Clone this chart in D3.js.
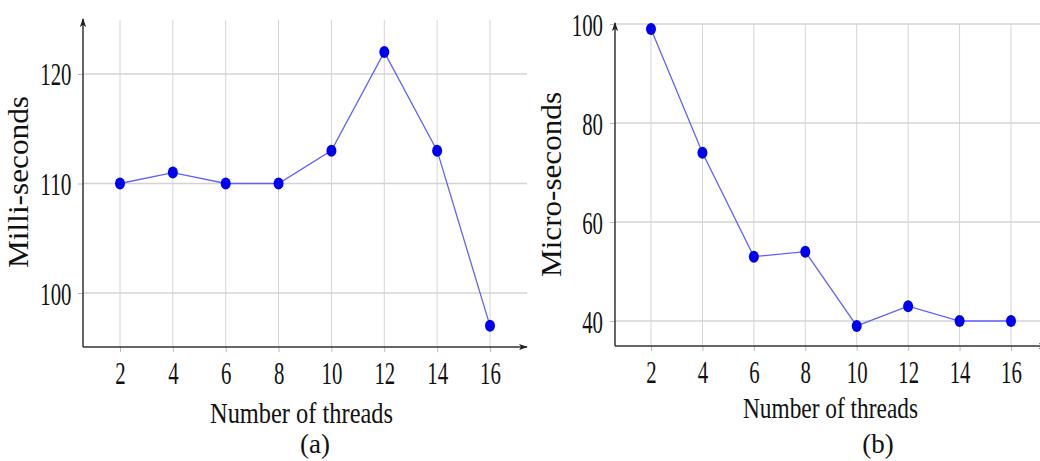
<!DOCTYPE html>
<html>
<head>
<meta charset="utf-8">
<script src="https://cdn.jsdelivr.net/npm/d3@7"></script>
<style>
  body { margin: 0; background: #fff; }
  svg { display: block; }
  svg text { font-family: "Liberation Serif", "DejaVu Serif", serif !important; fill: #111; }
</style>
</head>
<body>
<div id="chart"></div>
<script>
// data
const threads = [2, 4, 6, 8, 10, 12, 14, 16];
const milliSeconds = [110, 111, 110, 110, 113, 122, 113, 97];
const microSeconds = [99, 74, 53, 54, 39, 43, 40, 40];
const yTicksA = [100, 110, 120];
const yTicksB = [40, 60, 80, 100];

const W = 1040, H = 461;
const svg = d3.select('#chart').append('svg')
  .attr('width', W).attr('height', H);

svg.append('defs').append('marker')
  .attr('id', 'arrow')
  .attr('viewBox', '0 0 10 10')
  .attr('refX', 9).attr('refY', 5)
  .attr('markerWidth', 6).attr('markerHeight', 6)
  .attr('orient', 'auto')
  .append('path').attr('d', 'M0,1.5 L10,5 L0,8.5 L2.5,5 Z').attr('fill', '#222');

function panel(p) {
  const x = d3.scaleLinear().domain([0.6, 17.4]).range(p.xr);
  const y = d3.scaleLinear().domain(p.yd).range(p.yr);
  const g = svg.append('g');

  // grid
  g.selectAll('line.vg').data(threads).enter().append('line')
    .attr('x1', d => x(d)).attr('x2', d => x(d))
    .attr('y1', p.yr[1]).attr('y2', p.yr[0])
    .attr('stroke', '#d4d4d4').attr('stroke-width', 1);
  g.selectAll('line.hg').data(p.yTicks).enter().append('line')
    .attr('x1', p.xr[0]).attr('x2', Math.min(p.xr[1], W))
    .attr('y1', d => y(d)).attr('y2', d => y(d))
    .attr('stroke', '#d4d4d4').attr('stroke-width', 1.5);

  // ticks + labels
  const xa = g.append('g').attr('transform', 'translate(0,' + p.yr[0] + ')')
    .call(d3.axisBottom(x).tickValues(threads).tickSize(5).tickSizeOuter(0));
  const ya = g.append('g').attr('transform', 'translate(' + p.xr[0] + ',0)')
    .call(d3.axisLeft(y).tickValues(p.yTicks).tickSize(5).tickSizeOuter(0));
  [xa, ya].forEach(a => {
    a.attr('font-family', null).attr('font-size', null);
    a.select('.domain').remove();
    a.selectAll('.tick line').attr('stroke', '#bbb');
    a.selectAll('.tick text')
      .attr('font-size', 31)
      .attr('fill', '#111')
      .attr('textLength', function () { return this.textContent.length * 10.4; })
      .attr('lengthAdjust', 'spacingAndGlyphs');
  });
  xa.selectAll('.tick text').attr('dy', null).attr('y', 37);
  ya.selectAll('.tick text').attr('dy', null).attr('y', 11).attr('x', p.ylabX);

  // axis lines with arrows
  g.append('line')
    .attr('x1', p.xr[0]).attr('x2', p.xr[1])
    .attr('y1', p.yr[0]).attr('y2', p.yr[0])
    .attr('stroke', '#333').attr('stroke-width', 1.5)
    .attr('marker-end', 'url(#arrow)');
  g.append('line')
    .attr('x1', p.xr[0]).attr('x2', p.xr[0])
    .attr('y1', p.yr[0]).attr('y2', p.yr[1] - 1)
    .attr('stroke', '#333').attr('stroke-width', 1.5)
    .attr('marker-end', 'url(#arrow)');

  // series
  const pts = threads.map((t, i) => [x(t), y(p.values[i])]);
  g.append('path').attr('d', d3.line()(pts))
    .attr('fill', 'none').attr('stroke', '#6161ff').attr('stroke-width', 1.3);
  g.selectAll('ellipse').data(pts).enter().append('ellipse')
    .attr('cx', d => d[0]).attr('cy', d => d[1])
    .attr('rx', 5).attr('ry', 6).attr('fill', '#0000f0');

  // titles
  g.append('text')
    .attr('x', p.xTitle[0]).attr('y', p.xTitle[1])
    .attr('text-anchor', 'middle').attr('font-size', 29)
    .attr('textLength', p.xTitle[2]).attr('lengthAdjust', 'spacingAndGlyphs')
    .text('Number of threads');
  g.append('text')
    .attr('transform', 'translate(' + p.yTitle[0] + ',' + p.yTitle[1] + ') rotate(-90)')
    .attr('text-anchor', 'middle').attr('font-size', 29)
    .attr('textLength', p.yTitle[2]).attr('lengthAdjust', 'spacingAndGlyphs')
    .text(p.yLabel);
  g.append('text')
    .attr('x', p.cap[0]).attr('y', p.cap[1])
    .attr('text-anchor', 'middle').attr('font-size', 27)
    .text(p.caption);
}

panel({
  values: milliSeconds, yTicks: yTicksA,
  xr: [83, 527], yd: [95.07, 124.93], yr: [347, 20],
  ylabX: -11.5,
  xTitle: [301.5, 423, 183], yTitle: [28, 182, 172], yLabel: 'Milli-seconds',
  cap: [315, 453], caption: '(a)'
});
panel({
  values: microSeconds, yTicks: yTicksB,
  xr: [615, 1047], yd: [34.95, 100], yr: [346, 24],
  ylabX: -12,
  xTitle: [830.5, 418, 175], yTitle: [561, 184.5, 185], yLabel: 'Micro-seconds',
  cap: [878, 453], caption: '(b)'
});
</script>
</body>
</html>
